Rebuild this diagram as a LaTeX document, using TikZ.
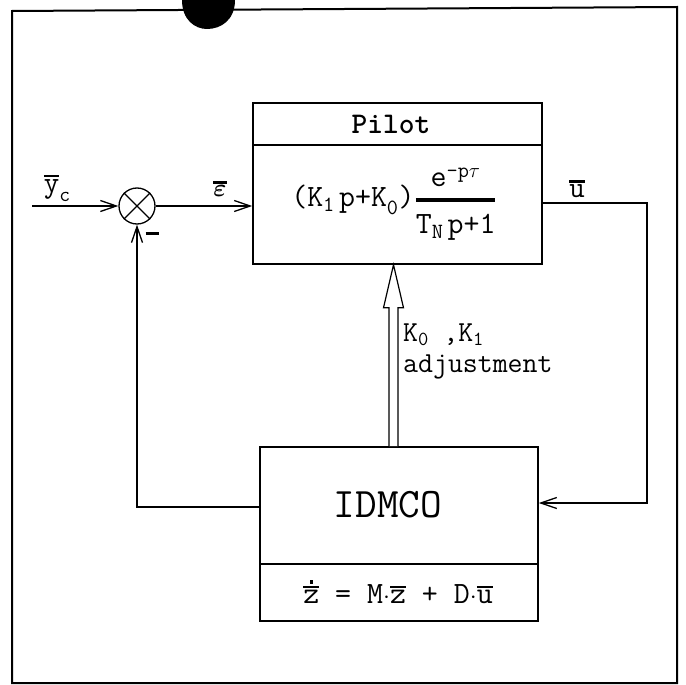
\documentclass[tikz,border=0pt]{standalone}
\usepackage{fontspec}
\usepackage{amsmath}
\usetikzlibrary{arrows.meta,calc}
\newcommand\ob[1]{\leavevmode\vbox{\hrule height 2.5pt\kern 2pt\hbox{#1}}}
\newsavebox\zbox
\newcommand\dotbar[1]{\sbox\zbox{#1}\leavevmode\vbox{\hbox to \wd\zbox{\hss\rule{3.5pt}{3.5pt}\hss}\kern2pt\hrule height 2.5pt\kern2pt\box\zbox}}
\newcommand\lsub[3][-0.3em]{\raisebox{#1}{\fontsize{#2}{#2}\selectfont #3}}
\tikzset{
  box/.style={draw, line width=1.6pt, rectangle, inner sep=0pt},
  txt/.style={inner sep=0pt, font=\ttfamily},
  arr/.style={line width=1.3pt, -{Straight Barb[length=16pt,width=11pt,line width=1.3pt]}},
  wire/.style={line width=1.3pt}
}
\begin{document}
\begin{tikzpicture}[x=1pt,y=-1pt]
\useasboundingbox (0,0) rectangle (686,685);
% outer frame
\draw[line width=2pt] (12,11) -- (677,7) -- (677,683) -- (12,683) -- cycle;
% punch blob
\fill (182,0) .. controls (182,20) and (195,29) .. (207,29) .. controls (221,29) and (235,20) .. (235,0) -- cycle;

% Pilot block
\node[box, minimum width=289pt, minimum height=161pt] (pilot) at (397.5,183.5) {};
\draw[line width=1.6pt] (pilot.west |- 0,145) -- (pilot.east |- 0,145);
\node[txt, font=\ttfamily\bfseries\fontsize{30}{30}\selectfont] (ptitle) at (391,124) {Pilot};
\node[txt, font=\ttfamily\fontsize{31}{34}\selectfont] (tf) at (394,204)
 {$\text{(K}_{\text{1}}\,\text{p+K}_{\text{0}}\text{)}\genfrac{}{}{4pt}{0}{\text{e}^{\text{-p}\tau}}{\text{T}_{\text{N}}\,\text{p+1}}$};

% summing junction
\node[draw, circle, line width=1.3pt, minimum size=36pt, inner sep=0pt] (sum) at (137,206) {};
\draw[line width=1.2pt] (sum.45) -- (sum.225) (sum.135) -- (sum.315);

% IDMCO block
\node[box, minimum width=278pt, minimum height=117pt] (idmco) at (399,505.5) {};
\node[box, minimum width=278pt, minimum height=57pt] (eqb) at (399,592.5) {};
\node[txt, font=\ttfamily\fontsize{42}{42}\selectfont] (idl) at (388,505) {IDMCO};
\node[txt, font=\ttfamily\fontsize{31}{31}\selectfont] (eq) at (398,592)
 {\dotbar{z} = M$\cdot$\ob{z} + D$\cdot$\ob{u}};

% input
\coordinate (yin) at (32,206);
\draw[arr] (yin) -- (sum.west);
\node[txt, font=\ttfamily\fontsize{30}{30}\selectfont] (yl) at (57,188) {\ob{y}\lsub{21}{c}};

% sum -> pilot
\draw[arr] (sum.east) -- (sum.east -| pilot.west);
\node[txt, font=\fontsize{28}{28}\selectfont] (el) at (220,189) {\ob{$\boldsymbol{\varepsilon}$}};

% minus sign
\node[inner sep=0pt] (minus) at (152,233) {\rule{13pt}{3pt}};

% output u
\coordinate (ur) at (647,203);
\coordinate (lr) at (647,503);
\draw[arr] (pilot.east |- ur) -- (ur) -- (lr) -- (lr -| idmco.east);
\node[txt, font=\ttfamily\fontsize{30}{30}\selectfont] (ul) at (577,189) {\ob{u}};

% feedback
\coordinate (ll) at (137,507);
\draw[arr] (ll -| idmco.west) -- (ll) -- (sum.south);

% hollow adjustment arrow
\coordinate (ab) at ($(idmco.north)+(-5.5,0)$);
\coordinate (at) at (ab |- pilot.south);
\draw[line width=1.2pt, fill=white, line join=miter]
  ($(ab)+(-4.5,0)$) -- ($(at)+(-4.5,43)$) -- ($(at)+(-10,43)$) -- (at)
  -- ($(at)+(10,43)$) -- ($(at)+(4.5,43)$) -- ($(ab)+(4.5,0)$);
\node[txt, anchor=north west, align=left, font=\ttfamily\fontsize{29}{31}\selectfont] (kl) at (403,324)
 {K\lsub[-0.12em]{20}{0} ,K\lsub[-0.12em]{20}{1}\\adjustment};
\end{tikzpicture}
\end{document}
